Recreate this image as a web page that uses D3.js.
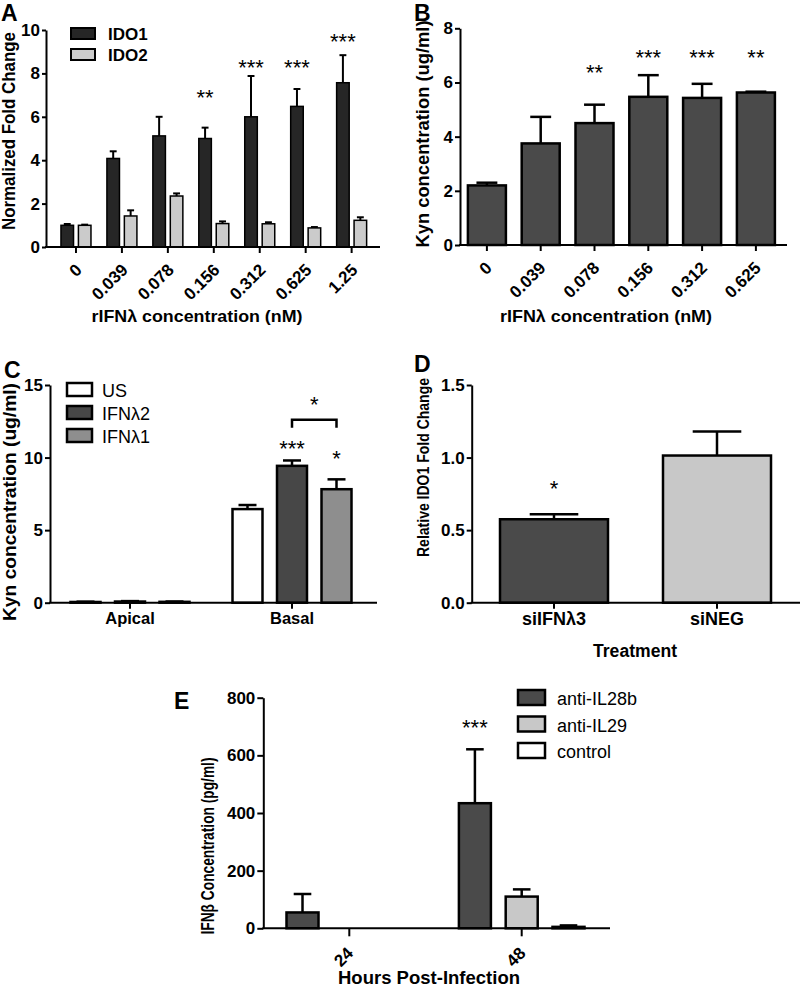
<!DOCTYPE html>
<html><head><meta charset="utf-8">
<script src="https://cdn.jsdelivr.net/npm/d3@7"></script>
<style>body{margin:0;background:#fff} svg{display:block}</style>
</head><body><svg id="fig" width="800" height="987"></svg>
<script>
// ---------- Panel A ----------
const aCategories = ["0", "0.039", "0.078", "0.156", "0.312", "0.625", "1.25"];
const aIDO1 = [1.0, 4.08, 5.12, 5.0, 6.0, 6.48, 7.57];
const aIDO1Err = [0.06, 0.33, 0.88, 0.5, 1.88, 0.8, 1.27];
const aIDO2 = [1.0, 1.43, 2.35, 1.08, 1.07, 0.88, 1.23];
const aIDO2Err = [0.03, 0.26, 0.12, 0.1, 0.07, 0.04, 0.14];
const aStars = ["", "", "", "**", "***", "***", "***"];
const aStarLevels = [0, 0, 0, 7.1, 8.5, 8.5, 9.7];
const aYTicks = [0, 2, 4, 6, 8, 10];

// ---------- Panel B ----------
const bCategories = ["0", "0.039", "0.078", "0.156", "0.312", "0.625"];
const bKyn = [2.2, 3.75, 4.5, 5.47, 5.43, 5.63];
const bKynErr = [0.1, 0.98, 0.68, 0.8, 0.52, 0.03];
const bStars = ["", "", "**", "***", "***", "**"];
const bStarLevels = [0, 0, 6.57, 7.12, 7.12, 7.12];
const bYTicks = [0, 2, 4, 6, 8];

// ---------- Panel C ----------
const cCategories = ["Apical", "Basal"];
const cUS = [0.05, 6.45];
const cUSErr = [0.02, 0.28];
const cIFNL2 = [0.08, 9.43];
const cIFNL2Err = [0.03, 0.37];
const cIFNL1 = [0.06, 7.82];
const cIFNL1Err = [0.02, 0.68];
const cStarsIFNL2 = ["", "***"];
const cStarsIFNL1 = ["", "*"];
const cStarLevelsIFNL2 = [0, 11.0];
const cStarLevelsIFNL1 = [0, 10.25];
const cBracket = { from: "IFNλ2", to: "IFNλ1", category: "Basal", level: 12.6, legLevel: 12.05, label: "*", labelLevel: 14.0 };
const cYTicks = [0, 5, 10, 15];

// ---------- Panel D ----------
const dCategories = ["siIFNλ3", "siNEG"];
const dValues = [0.575, 1.014];
const dErrors = [0.035, 0.165];
const dStars = ["*", ""];
const dStarLevels = [0.82, 0];
const dYTicks = [0, 0.5, 1.0, 1.5];

// ---------- Panel E ----------
const eCategories = ["24", "48"];
const eAntiIL28b = [55, 434];
const eAntiIL28bErr = [64, 187];
const eAntiIL29 = [0, 110];
const eAntiIL29Err = [0, 25];
const eControl = [0, 5];
const eControlErr = [0, 5];
const eStars = ["", "***"];
const eStarLevels = [0, 713];
const eYTicks = [0, 200, 400, 600, 800];

const svg = d3.select("#fig");
const FONT = "'Liberation Sans', Arial, Helvetica, sans-serif";
const STAR = 22;

function txt(g, s, x, y, size, opts = {}) {
  const t = g.append("text").attr("x", x).attr("y", y).text(s)
    .attr("font-family", FONT).attr("font-size", size)
    .attr("font-weight", opts.weight || "bold").attr("fill", "#000")
    .attr("text-anchor", opts.anchor || "start");
  if (opts.transform) t.attr("transform", opts.transform);
  if (opts.len) t.attr("textLength", opts.len).attr("lengthAdjust", "spacingAndGlyphs");
  return t;
}

function makePanel(o) {
  const g = svg.append("g");
  const y = d3.scaleLinear().domain([0, o.yMax]).range([o.yBottom, o.yTop]);
  const x = d3.scaleBand().domain(o.categories).range(o.bandRange).paddingInner(0).paddingOuter(0);
  const sub = d3.scaleBand().domain(o.series.map(s => s.name))
    .range([-o.groupHalf, o.groupHalf]).paddingInner(o.groupPad || 0).paddingOuter(0);
  const cx = c => x(c) + x.bandwidth() / 2;
  const bw = sub.bandwidth();
  const cap = bw * o.capFactor;

  // error bars
  o.series.forEach(s => {
    o.categories.forEach((c, i) => {
      const v = s.values[i], e = s.errors[i];
      if (v <= 0 || e <= 0) return;
      const bx = cx(c) + sub(s.name) + bw / 2;
      g.append("line").attr("x1", bx).attr("x2", bx).attr("y1", y(v)).attr("y2", y(v + e))
        .attr("stroke", "#000").attr("stroke-width", o.errW);
      g.append("line").attr("x1", bx - cap / 2).attr("x2", bx + cap / 2).attr("y1", y(v + e)).attr("y2", y(v + e))
        .attr("stroke", "#000").attr("stroke-width", o.errW);
    });
  });
  // bars
  o.series.forEach(s => {
    g.selectAll(null).data(o.categories.map((c, i) => ({ c, i, v: s.values[i] })).filter(d => d.v > 0))
      .join("rect")
      .attr("x", d => cx(d.c) + sub(s.name))
      .attr("width", bw)
      .attr("y", d => y(d.v))
      .attr("height", d => y(0) - y(d.v))
      .attr("fill", d => Array.isArray(s.fill) ? s.fill[d.i] : s.fill)
      .attr("stroke", "#000").attr("stroke-width", o.barStroke);
  });
  // stars
  o.series.forEach(s => {
    if (!s.stars) return;
    o.categories.forEach((c, i) => {
      if (!s.stars[i]) return;
      const bx = cx(c) + sub(s.name) + bw / 2;
      txt(g, s.stars[i], bx, y(s.starLevels[i]) + 0.57 * STAR, STAR, { weight: "normal", anchor: "middle" });
    });
  });

  // y axis
  const ya = g.append("g").attr("transform", `translate(${o.x0},0)`)
    .call(d3.axisLeft(y).tickValues(o.yTicks).tickFormat(o.yFormat).tickSize(o.yTickSize || 5).tickPadding(2).tickSizeOuter(0));
  ya.select(".domain").attr("stroke-width", 2);
  ya.selectAll(".tick line").attr("stroke-width", 2);
  ya.selectAll(".tick text").attr("font-family", FONT).attr("font-weight", "bold")
    .attr("font-size", o.yTickFont).attr("fill", "#000");

  // x axis
  const xa = g.append("g").attr("transform", `translate(0,${o.yBottom})`)
    .call(d3.axisBottom(x).tickSize(o.xTickSize).tickSizeOuter(0).tickFormat(""));
  xa.select(".domain").remove();
  xa.selectAll(".tick line").attr("stroke-width", 2);
  g.append("line").attr("x1", o.x0 - 1).attr("x2", o.x1).attr("y1", o.yBottom).attr("y2", o.yBottom)
    .attr("stroke", "#000").attr("stroke-width", 2);

  o.categories.forEach(c => {
    if (o.rotate) {
      txt(g, c, 0, 0, o.xTickFont, { anchor: "end",
        transform: `translate(${cx(c) + o.rotDx},${o.yBottom + o.rotDy}) rotate(-45)` });
    } else {
      txt(g, c, cx(c), o.yBottom + o.flatDy, o.xTickFont, { anchor: "middle" });
    }
  });

  // titles
  if (o.xTitle) txt(g, o.xTitle.text, o.xTitle.x, o.xTitle.y, o.xTitle.size, { anchor: "middle", len: o.xTitle.len });
  if (o.yTitle) txt(g, o.yTitle.text, 0, 0, o.yTitle.size,
    { anchor: "middle", len: o.yTitle.len, transform: `translate(${o.yTitle.x},${o.yTitle.y}) rotate(-90)` });
  // panel letter
  txt(g, o.letter.text, o.letter.x, o.letter.y, 23);

  // legend
  if (o.legend) {
    const L = o.legend;
    o.series.forEach((s, i) => {
      const yy = L.y + i * L.dy;
      g.append("rect").attr("x", L.x).attr("y", yy).attr("width", L.w).attr("height", L.h)
        .attr("fill", s.fill).attr("stroke", "#000").attr("stroke-width", L.stroke);
      txt(g, s.name, L.textX, yy + L.h + L.baseDy, L.size, { weight: L.weight });
    });
  }
  return { g, x, y, sub, cx, bw };
}

// Panel A
makePanel({
  categories: aCategories, yMax: 10, yTop: 30, yBottom: 247, x0: 46, x1: 380,
  bandRange: [53, 374.6], groupHalf: 15, groupPad: 0.28, capFactor: 0.55, errW: 2, barStroke: 1.5,
  series: [
    { name: "IDO1", values: aIDO1, errors: aIDO1Err, fill: "#262626", stars: aStars, starLevels: aStarLevels },
    { name: "IDO2", values: aIDO2, errors: aIDO2Err, fill: "#cbcbcb" }
  ],
  yTicks: aYTicks, yFormat: d3.format("d"), yTickFont: 17, yTickSize: 4,
  xTickSize: 6, xTickFont: 17, rotate: true, rotDx: 7, rotDy: 24,
  xTitle: { text: "rIFNλ concentration (nM)", x: 197, y: 322, size: 16.5, len: 211 },
  yTitle: { text: "Normalized Fold Change", x: 15, y: 131, size: 17.5, len: 198 },
  letter: { text: "A", x: 1, y: 21 },
  legend: { x: 71, y: 28, dy: 21, w: 24, h: 11, stroke: 2, textX: 108, baseDy: 1, size: 17, weight: "bold" }
});

// Panel B
makePanel({
  categories: bCategories, yMax: 8, yTop: 28.3, yBottom: 245, x0: 460, x1: 787,
  bandRange: [460, 782.8], groupHalf: 19, groupPad: 0, capFactor: 0.55, errW: 2.5, barStroke: 2.5,
  series: [{ name: "Kyn", values: bKyn, errors: bKynErr, fill: "#4a4a4a", stars: bStars, starLevels: bStarLevels }],
  yTicks: bYTicks, yFormat: d3.format("d"), yTickFont: 17, yTickSize: 5,
  xTickSize: 6, xTickFont: 17, rotate: true, rotDx: 6, rotDy: 24,
  xTitle: { text: "rIFNλ concentration (nM)", x: 606, y: 322, size: 16.5, len: 212 },
  yTitle: { text: "Kyn concentration (ug/ml)", x: 429, y: 134, size: 17.5, len: 227 },
  letter: { text: "B", x: 414, y: 21 }
});

// Panel C
const pC = makePanel({
  categories: cCategories, yMax: 15, yTop: 385, yBottom: 602.7, x0: 50, x1: 377,
  bandRange: [49, 373], groupHalf: 59.5, groupPad: 0.326, capFactor: 0.6, errW: 2.5, barStroke: 2.5,
  series: [
    { name: "US", values: cUS, errors: cUSErr, fill: "#ffffff" },
    { name: "IFNλ2", values: cIFNL2, errors: cIFNL2Err, fill: "#474747", stars: cStarsIFNL2, starLevels: cStarLevelsIFNL2 },
    { name: "IFNλ1", values: cIFNL1, errors: cIFNL1Err, fill: "#8e8e8e", stars: cStarsIFNL1, starLevels: cStarLevelsIFNL1 }
  ],
  yTicks: cYTicks, yFormat: d3.format("d"), yTickFont: 17, yTickSize: 5,
  xTickSize: 6, xTickFont: 16.5, rotate: false, flatDy: 21,
  yTitle: { text: "Kyn concentration (ug/ml)", x: 16, y: 502, size: 18.5, len: 238 },
  letter: { text: "C", x: 4, y: 378 },
  legend: { x: 67, y: 383, dy: 23, w: 25, h: 13, stroke: 2.5, textX: 102, baseDy: 1, size: 18, weight: "normal" }
});
{
  const b = cBracket, g = pC.g;
  const xa = pC.cx(b.category) + pC.sub(b.from) + pC.bw / 2;
  const xb = pC.cx(b.category) + pC.sub(b.to) + pC.bw / 2;
  g.append("path")
    .attr("d", `M${xa},${pC.y(b.legLevel)}V${pC.y(b.level)}H${xb}V${pC.y(b.legLevel)}`)
    .attr("fill", "none").attr("stroke", "#000").attr("stroke-width", 2.5);
  txt(g, b.label, (xa + xb) / 2, pC.y(b.labelLevel) + 0.57 * STAR, STAR, { weight: "normal", anchor: "middle" });
}

// Panel D
makePanel({
  categories: dCategories, yMax: 1.5, yTop: 385, yBottom: 602.7, x0: 471.7, x1: 800,
  bandRange: [472.5, 798.5], groupHalf: 54, groupPad: 0, capFactor: 0.45, errW: 2.5, barStroke: 2.5,
  series: [{ name: "IDO1", values: dValues, errors: dErrors, fill: ["#4a4a4a", "#c8c8c8"], stars: dStars, starLevels: dStarLevels }],
  yTicks: dYTicks, yFormat: d3.format(".1f"), yTickFont: 17, yTickSize: 5,
  xTickSize: 6, xTickFont: 18, rotate: false, flatDy: 22,
  xTitle: { text: "Treatment", x: 635, y: 657, size: 17.5, len: 84 },
  yTitle: { text: "Relative IDO1 Fold Change", x: 429, y: 467.5, size: 16.5, len: 179 },
  letter: { text: "D", x: 414, y: 372 }
});

// Panel E
makePanel({
  categories: eCategories, yMax: 800, yTop: 697.7, yBottom: 928.3, x0: 263.3, x1: 610,
  bandRange: [263.1, 607.9], groupHalf: 62.8, groupPad: 0.316, capFactor: 0.55, errW: 2.5, barStroke: 2.5,
  series: [
    { name: "anti-IL28b", values: eAntiIL28b, errors: eAntiIL28bErr, fill: "#4a4a4a", stars: eStars, starLevels: eStarLevels },
    { name: "anti-IL29", values: eAntiIL29, errors: eAntiIL29Err, fill: "#c8c8c8" },
    { name: "control", values: eControl, errors: eControlErr, fill: "#ffffff" }
  ],
  yTicks: eYTicks, yFormat: d3.format("d"), yTickFont: 17, yTickSize: 6,
  xTickSize: 8, xTickFont: 17, rotate: true, rotDx: 5, rotDy: 26,
  xTitle: { text: "Hours Post-Infection", x: 429, y: 984, size: 18, len: 182 },
  yTitle: { text: "IFNβ Concentration (pg/ml)", x: 214, y: 846, size: 18, len: 177 },
  letter: { text: "E", x: 174, y: 709 },
  legend: { x: 518, y: 690, dy: 26.5, w: 27, h: 15, stroke: 2.5, textX: 557, baseDy: 0, size: 18, weight: "normal" }
});
</script></body></html>
